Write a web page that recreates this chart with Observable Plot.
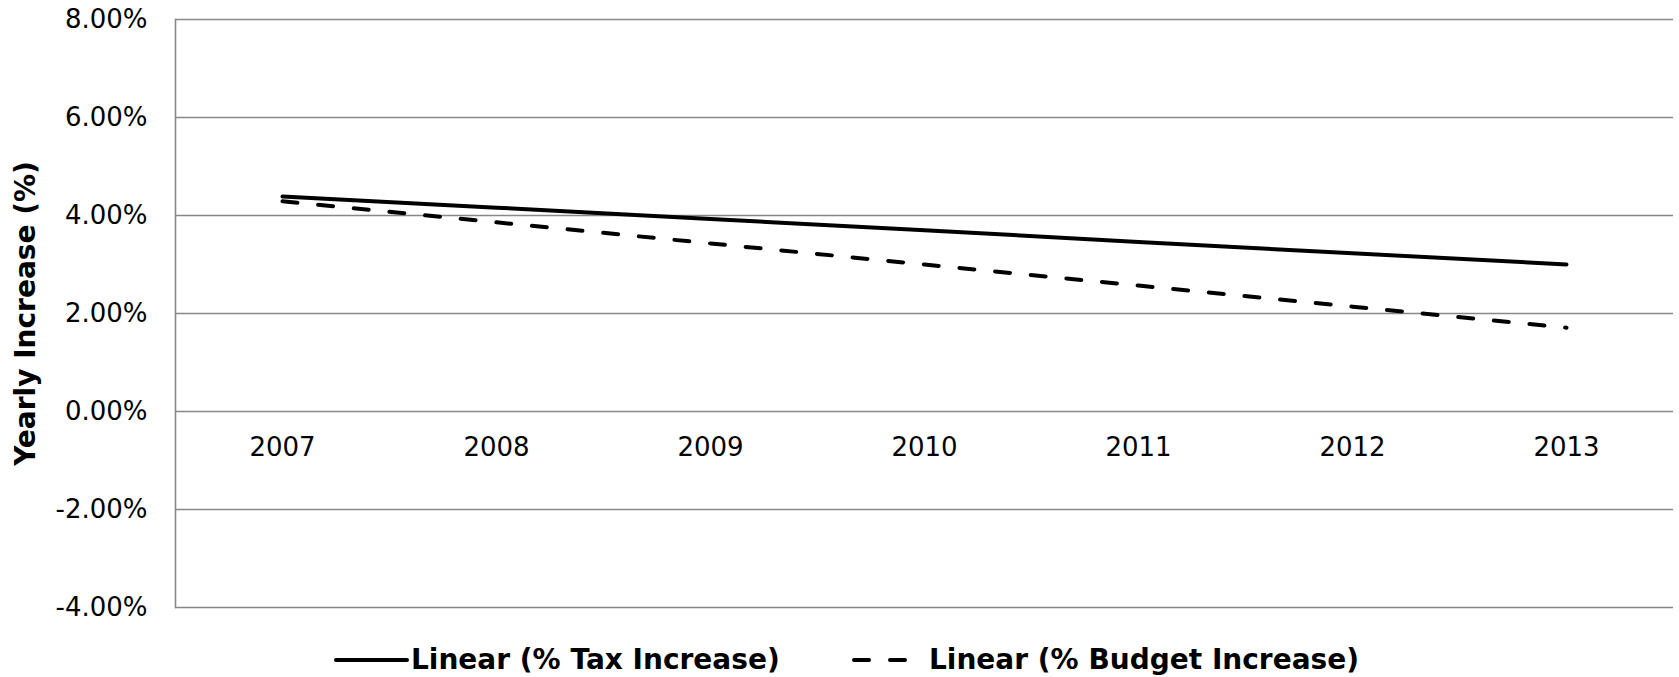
<!DOCTYPE html>
<html>
<head>
<meta charset="utf-8">
<script src="https://cdn.jsdelivr.net/npm/d3@7"></script>
<script src="https://cdn.jsdelivr.net/npm/@observablehq/plot@0.6"></script>
<style>
  html, body { margin: 0; padding: 0; background: #fff; }
  #wrap { position: relative; width: 1679px; height: 677px; font-family: "DejaVu Sans", Verdana, sans-serif; }
  #legend { position: absolute; left: 0; top: 643px; width: 1679px; height: 34px; }
  .sw { position: absolute; top: 0; }
  .lt { position: absolute; top: 0; line-height: 34px; font-size: 28px; font-weight: bold; color: #000; white-space: nowrap; }
</style>
</head>
<body>
<div id="wrap">
  <div id="chart"></div>
  <div id="legend">
    <svg class="sw" style="left:334px" width="76" height="34"><line x1="2" y1="17" x2="73" y2="17" stroke="#000" stroke-width="4" stroke-linecap="round"/></svg>
    <span class="lt" style="left:411px">Linear (% Tax Increase)</span>
    <svg class="sw" style="left:850px" width="62" height="34"><line x1="4" y1="17" x2="58" y2="17" stroke="#000" stroke-width="4" stroke-linecap="round" stroke-dasharray="15,21"/></svg>
    <span class="lt" style="left:929px">Linear (% Budget Increase)</span>
  </div>
</div>
<script>
const years = ["2007", "2008", "2009", "2010", "2011", "2012", "2013"];
const taxIncrease = [4.39, 4.16, 3.93, 3.70, 3.46, 3.23, 3.00];
const budgetIncrease = [4.29, 3.86, 3.43, 3.00, 2.57, 2.14, 1.71];
const yTicks = [-4, -2, 0, 2, 4, 6, 8];
const yTitle = "Yearly Increase (%)";

const taxData = years.map((y, i) => ({year: y, value: taxIncrease[i]}));
const budgetData = years.map((y, i) => ({year: y, value: budgetIncrease[i]}));

const chart = Plot.plot({
  width: 1679,
  height: 625,
  marginTop: 19,
  marginBottom: 18,
  marginLeft: 175,
  marginRight: 6,
  style: {fontFamily: "DejaVu Sans, Verdana, sans-serif", color: "#000", background: "#fff"},
  x: {type: "point", domain: years, padding: 0.5},
  y: {domain: [-4, 8]},
  marks: [
    Plot.gridY(yTicks, {stroke: "#888", strokeOpacity: 1, strokeWidth: 1.6}),
    Plot.frame({anchor: "left", stroke: "#888", strokeWidth: 1.6}),
    Plot.axisY(yTicks, {tickSize: 0, tickPadding: 28, fontSize: 26, fill: "#000", tickFormat: d => d.toFixed(2) + "%", label: null}),
    Plot.axisX({ticks: [], label: null}),
    Plot.text(years, {x: d => d, y: 0, dy: 36, fontSize: 26, fill: "#000"}),
    Plot.text([yTitle], {frameAnchor: "left", textAnchor: "middle", dx: -149, rotate: -90, fontSize: 28, fontWeight: "bold", fill: "#000"}),
    Plot.line(budgetData, {x: "year", y: "value", stroke: "#000", strokeWidth: 4, strokeLinecap: "round", strokeDasharray: "15,20.8"}),
    Plot.line(taxData, {x: "year", y: "value", stroke: "#000", strokeWidth: 4, strokeLinecap: "round"})
  ]
});
document.getElementById("chart").appendChild(chart);
</script>
</body>
</html>
